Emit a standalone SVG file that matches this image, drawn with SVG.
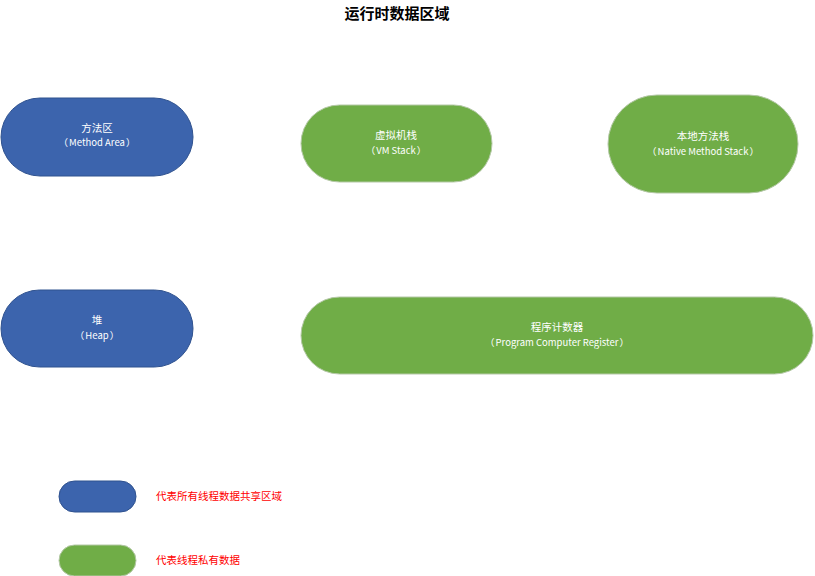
<svg xmlns="http://www.w3.org/2000/svg" width="815" height="576" viewBox="0 0 815 576">
<style>
.blue{fill:#3C64AD;stroke:#2F528F;stroke-width:1}
.green{fill:#70AD47;stroke:#B4C8A6;stroke-width:1}
.zh{font-family:"Noto Sans CJK SC","Noto Sans",sans-serif;font-size:10.5px;fill:#FFFFFF;text-anchor:middle}
.en{font-family:"Noto Sans CJK SC","Noto Sans",sans-serif;font-size:9.5px;fill:#FFFFFF;text-anchor:middle}
.legend{font-family:"Noto Sans CJK SC",sans-serif;font-size:10.5px;fill:#FF0000}
.title{font-family:"Noto Sans CJK SC",sans-serif;font-size:15px;font-weight:bold;fill:#000000;text-anchor:middle}
</style>
<rect width="815" height="576" fill="#FFFFFF"/>
<text class="title" x="397" y="19">运行时数据区域</text>
<g id="method-area">
<rect class="blue" x="1" y="98" width="192" height="78" rx="39" ry="39"/>
<text class="zh" x="97" y="132">方法区</text>
<text class="en" x="97" y="146">（<tspan dx="1">Method Area</tspan><tspan dx="1">）</tspan></text>
</g>
<g id="vm-stack">
<rect class="green" x="301" y="105" width="191" height="77" rx="38.5" ry="38.5"/>
<text class="zh" x="396" y="139">虚拟机栈</text>
<text class="en" x="396" y="154">（<tspan dx="1">VM Stack</tspan><tspan dx="1">）</tspan></text>
</g>
<g id="native-method-stack">
<rect class="green" x="608" y="95" width="190" height="98" rx="49" ry="49"/>
<text class="zh" x="703" y="140">本地方法栈</text>
<text class="en" x="703" y="155">（<tspan dx="1">Native Method Stack</tspan><tspan dx="1">）</tspan></text>
</g>
<g id="heap">
<rect class="blue" x="1" y="290" width="192" height="77" rx="38.5" ry="38.5"/>
<text class="zh" x="97" y="324">堆</text>
<text class="en" x="97" y="339">（<tspan dx="1">Heap</tspan><tspan dx="1">）</tspan></text>
</g>
<g id="program-counter">
<rect class="green" x="301" y="297" width="512" height="77" rx="38.5" ry="38.5"/>
<text class="zh" x="557" y="331">程序计数器</text>
<text class="en" x="557" y="346">（<tspan dx="1">Program Computer Register</tspan><tspan dx="1">）</tspan></text>
</g>
<g id="legend-shared">
<rect class="blue" x="59" y="481" width="77" height="31" rx="15.5" ry="15.5"/>
<text class="legend" x="156" y="500">代表所有线程数据共享区域</text>
</g>
<g id="legend-private">
<rect class="green" x="59" y="545" width="77" height="31" rx="15.5" ry="15.5"/>
<text class="legend" x="156" y="564">代表线程私有数据</text>
</g>
<g id="connectors"></g>
</svg>
